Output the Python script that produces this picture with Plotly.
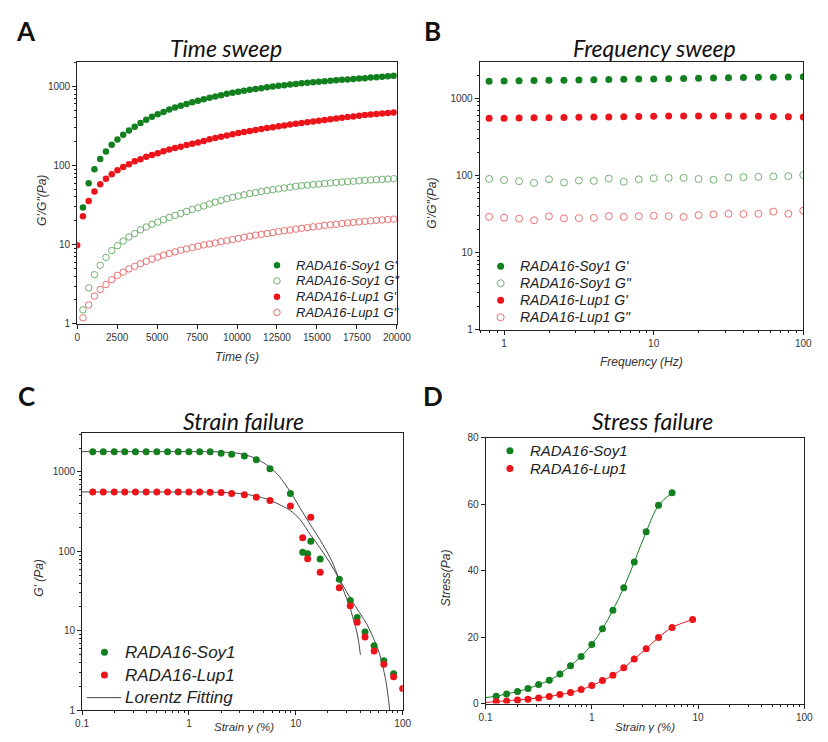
import plotly.graph_objects as go

# ---------------- DATA ----------------
# Panel A: time sweep
time_s = [0, 360, 720, 1080, 1440, 1800, 2160, 2520, 2880, 3240, 3600, 3960, 4320, 4680,
          5040, 5400, 5760, 6120, 6480, 6840, 7200, 7560, 7920, 8280, 8640, 9000, 9360,
          9720, 10080, 10440, 10800, 11160, 11520, 11880, 12240, 12600, 12960, 13320,
          13680, 14040, 14400, 14760, 15120, 15480, 15840, 16200, 16560, 16920, 17280,
          17640, 18000, 18360, 18720, 19080, 19440, 19800]
soy_gp_t = [None, 29.4, 59.6, 89.8, 120.5, 150, 183, 213, 244, 276, 310, 344, 378, 412, 445,
            475, 509, 540, 571, 598, 628, 659, 690, 718, 746, 772, 805, 830, 858, 882, 905,
            928, 950, 975, 995, 1015, 1035, 1055, 1075, 1093, 1110, 1128, 1145, 1160, 1178,
            1195, 1210, 1225, 1240, 1255, 1270, 1290, 1305, 1325, 1345, 1365]
soy_gpp_t = [None, 1.50, 2.84, 4.17, 5.48, 6.90, 8.42, 9.72, 11.1, 12.5, 13.8, 15.4, 16.7,
             18.1, 19.3, 20.7, 22.1, 23.4, 24.8, 26.2, 27.8, 29.1, 30.8, 32.6, 34.4, 36.2,
             38.0, 39.6, 41.1, 42.6, 44.1, 45.5, 46.9, 48.2, 49.5, 50.7, 52.0, 53.2, 54.6,
             55.6, 56.5, 57.4, 58.3, 59.2, 60.0, 60.9, 61.7, 62.5, 63.3, 64.1, 65.0, 65.6,
             66.3, 66.9, 67.5, 68.1]
lup_gp_t = [9.8, 22.9, 35.6, 46.9, 57.9, 68, 77.8, 87.1, 95.8, 104, 113, 120, 129, 136, 143,
            151, 159, 167, 173, 182, 189, 196, 204, 214, 223, 231, 240, 248, 257, 265, 273,
            281, 290, 298, 305, 313, 321, 329, 337, 344, 352, 360, 368, 376, 384, 392, 400,
            409, 417, 425, 434, 441, 447, 454, 461, 467]
lup_gpp_t = [None, 1.19, 1.73, 2.24, 2.71, 3.13, 3.61, 4.08, 4.49, 4.94, 5.33, 5.75, 6.15,
             6.58, 6.96, 7.37, 7.72, 8.11, 8.51, 8.84, 9.18, 9.55, 9.91, 10.2, 10.5, 10.9,
             11.2, 11.6, 12.0, 12.4, 12.8, 13.2, 13.5, 13.8, 14.2, 14.6, 15.0, 15.3, 15.7,
             16.1, 16.4, 16.8, 17.1, 17.5, 17.8, 18.1, 18.5, 18.8, 19.1, 19.4, 19.7, 20.0,
             20.3, 20.5, 20.8, 21.0]

# Panel B: frequency sweep
freq_hz = [0.794, 1, 1.259, 1.585, 1.995, 2.512, 3.162, 3.981, 5.012, 6.31, 7.943, 10,
           12.59, 15.85, 19.95, 25.12, 31.62, 39.81, 50.12, 63.1, 79.43, 100]
soy_gp_f = [1670, 1680, 1690, 1700, 1710, 1720, 1730, 1745, 1755, 1765, 1775, 1785, 1795,
            1810, 1820, 1830, 1845, 1860, 1870, 1880, 1890, 1900]
soy_gpp_f = [90, 87, 84, 80, 89, 81, 86, 85, 91, 83, 89, 92, 93, 93, 90, 88, 94, 95, 96, 97,
             98, 101]
lup_gp_f = [550, 552, 555, 558, 562, 565, 568, 571, 574, 578, 581, 584, 588, 590, 592, 592,
            590, 586, 584, 580, 576, 572]
lup_gpp_f = [29, 28.3, 27.5, 26.2, 29.5, 27.8, 28, 28.2, 29.6, 29, 29.6, 30, 29.6, 29, 30.5,
             31.2, 31.8, 31.6, 31.8, 34, 31.8, 35]

# Panel C: strain failure
strain_c = [0.126, 0.158, 0.2, 0.251, 0.316, 0.398, 0.501, 0.631, 0.794, 1.0, 1.26, 1.58,
            2.0, 2.51, 3.3, 4.27, 5.73, 8.9, 11.6, 12.9, 13.8, 16.9, 25.5, 32.3, 37.5, 44.4,
            54, 66.6, 82.2, 100]
soy_gp_c = [1800, 1800, 1800, 1800, 1800, 1800, 1800, 1800, 1800, 1800, 1800, 1790, 1718,
            1668, 1592, 1420, 1099, 535, 98, 93.4, 134, 80.2, 44.6, 24.1, 14.8, 9.7, 6.5,
            4.2, 2.9, None]
lup_gp_c = [561, 561, 561, 561, 561, 561, 561, 561, 561, 561, 561, 556, 550, 535, 515, 482,
            438, 373, 149, 81, 270, 54.8, 34.8, 20.8, 12.9, 8.4, 5.6, 3.8, 2.66, 1.89]
fit_soy_x = [0.1, 0.5, 1, 2, 3, 4, 5, 6, 7, 8.9, 11, 13.8, 16.9, 21.8, 25, 28, 31.9, 34.5,
             36.7, 38.6, 40.2]
fit_soy_y = [1800, 1800, 1799, 1785, 1700, 1520, 1300, 1090, 880, 560, 350, 213, 139, 75,
             47, 32, 20.5, 14, 10.5, 7.5, 5.0]
fit_lup_x = [0.1, 0.5, 1, 2, 3, 4, 5, 6, 8.9, 11, 13.8, 16.9, 21.8, 25, 33, 47, 60, 69, 74,
             75.5]
fit_lup_y = [560, 560, 559, 553, 535, 505, 470, 430, 326, 250, 160, 110, 65, 47, 24.7, 11.6,
             5.4, 2.5, 1.3, 1.0]

# Panel D: stress failure
strain_d_soy = [0.126, 0.158, 0.2, 0.251, 0.316, 0.398, 0.501, 0.631, 0.794, 1.0, 1.26,
                1.58, 2.0, 2.51, 3.25, 4.25, 5.7]
stress_soy = [2.2, 2.9, 3.6, 4.5, 5.7, 7.0, 8.9, 11.4, 14.2, 17.8, 22.5, 28.1, 34.9, 42.6,
              51.7, 59.7, 63.5]
strain_d_lup = [0.126, 0.158, 0.2, 0.251, 0.316, 0.398, 0.501, 0.631, 0.794, 1.0, 1.26,
                1.58, 2.0, 2.51, 3.25, 4.25, 5.7, 8.9]
stress_lup = [0.6, 0.8, 1.1, 1.3, 1.7, 2.1, 2.7, 3.3, 4.2, 5.4, 6.9, 8.5, 10.8, 13.4, 16.5,
              19.9, 22.9, 25.3]
line_start_strain = 0.1
line_start_soy = 1.8
line_start_lup = 0.3

# Legend labels
leg_a = ["RADA16-Soy1 G'", "RADA16-Soy1 G\"", "RADA16-Lup1 G'", "RADA16-Lup1 G\""]
leg_c = ["RADA16-Soy1", "RADA16-Lup1", "Lorentz Fitting"]

# ---------------- STYLE / LAYOUT ----------------
W, H = 828, 742
GREEN = "rgb(18,128,30)"
RED = "rgb(236,20,26)"
LGREEN = "rgb(112,178,112)"
LRED = "rgb(236,112,112)"
FITC = "rgb(70,70,70)"
TICKFONT = dict(family="Liberation Sans, Arial", size=10, color="#333")
LEGFONT = "Liberation Sans, Arial"
TITLEFONT = "Lato, Open Sans"


def px_x(p):
    return p / W


def px_y(p):
    return 1 - p / H


def dom_x(a, b):
    return [px_x(a), px_x(b)]


def dom_y(top, bottom):
    return [px_y(bottom), px_y(top)]


def mk(color, size=6, open_=False):
    if open_:
        return dict(symbol="circle-open", size=size, color=color, line=dict(width=1, color=color))
    return dict(symbol="circle", size=size, color=color)


fig = go.Figure()

# Panel A
styles_a = [(GREEN, False), (LGREEN, True), (RED, False), (LRED, True)]
series_a = [soy_gp_t, soy_gpp_t, lup_gp_t, lup_gpp_t]
for (c, o), ys, nm in zip(styles_a, series_a, leg_a):
    fig.add_trace(go.Scatter(x=time_s, y=ys, mode="markers", marker=mk(c, 6.5, o), name=nm,
                             showlegend=False, xaxis="x", yaxis="y"))

# Panel B
series_b = [soy_gp_f, soy_gpp_f, lup_gp_f, lup_gpp_f]
for (c, o), ys, nm in zip(styles_a, series_b, leg_a):
    fig.add_trace(go.Scatter(x=freq_hz, y=ys, mode="markers", marker=mk(c, 7, o), name=nm,
                             showlegend=False, xaxis="x2", yaxis="y2"))

# Panel C
fig.add_trace(go.Scatter(x=fit_soy_x, y=fit_soy_y, mode="lines",
                         line=dict(color=FITC, width=1, shape="spline", smoothing=0.8),
                         name=leg_c[2], showlegend=False, xaxis="x3", yaxis="y3"))
fig.add_trace(go.Scatter(x=fit_lup_x, y=fit_lup_y, mode="lines",
                         line=dict(color=FITC, width=1, shape="spline", smoothing=0.8),
                         name=leg_c[2], showlegend=False, xaxis="x3", yaxis="y3"))
fig.add_trace(go.Scatter(x=strain_c, y=soy_gp_c, mode="markers", marker=mk(GREEN, 7),
                         name=leg_c[0], showlegend=False, xaxis="x3", yaxis="y3"))
fig.add_trace(go.Scatter(x=strain_c, y=lup_gp_c, mode="markers", marker=mk(RED, 7),
                         name=leg_c[1], showlegend=False, xaxis="x3", yaxis="y3"))

# Panel D
fig.add_trace(go.Scatter(x=[line_start_strain] + strain_d_soy, y=[line_start_soy] + stress_soy,
                         mode="lines", line=dict(color=GREEN, width=1, shape="spline"),
                         showlegend=False, xaxis="x4", yaxis="y4"))
fig.add_trace(go.Scatter(x=[line_start_strain] + strain_d_lup, y=[line_start_lup] + stress_lup,
                         mode="lines", line=dict(color=RED, width=1, shape="spline"),
                         showlegend=False, xaxis="x4", yaxis="y4"))
fig.add_trace(go.Scatter(x=strain_d_soy, y=stress_soy, mode="markers", marker=mk(GREEN, 7),
                         name=leg_c[0], showlegend=False, xaxis="x4", yaxis="y4"))
fig.add_trace(go.Scatter(x=strain_d_lup, y=stress_lup, mode="markers", marker=mk(RED, 7),
                         name=leg_c[1], showlegend=False, xaxis="x4", yaxis="y4"))

# ---- legend keys (drawn on a pixel-coordinate overlay axis) ----
annots = []


def ann(text, x, y, size, family, color="#111", bold=False, italic=False, angle=0,
        xanchor="center"):
    t = text
    if italic:
        t = "<i>" + t + "</i>"
    if bold:
        t = "<b>" + t + "</b>"
    annots.append(dict(text=t, x=px_x(x), y=px_y(y), xref="paper", yref="paper",
                       showarrow=False, xanchor=xanchor, yanchor="middle", textangle=angle,
                       font=dict(size=size, family=family, color=color)))


def legend_block(mx, tx, y0, dy, labels, styles, msize, fsize):
    for i, (lab, st) in enumerate(zip(labels, styles)):
        yy = y0 + i * dy
        if st[0] == "line":
            fig.add_trace(go.Scatter(x=[mx - 18, mx + 17], y=[yy, yy], mode="lines",
                                     line=dict(color=st[1], width=1), showlegend=False,
                                     hoverinfo="skip", xaxis="x5", yaxis="y5"))
        else:
            fig.add_trace(go.Scatter(x=[mx], y=[yy], mode="markers",
                                     marker=mk(st[0], msize, st[1]), showlegend=False,
                                     hoverinfo="skip", xaxis="x5", yaxis="y5"))
        ann(lab, tx, yy, fsize, LEGFONT, color="#222", italic=True, xanchor="left")


legend_block(277, 294, 263.5, 16, leg_a, styles_a, 6.5, 13)
legend_block(506.5, 524, 264.5, 17.3, leg_a, styles_a, 7, 14)
legend_block(100, 119, 657, 23, leg_c, [(GREEN, False), (RED, False), ("line", FITC)], 7, 17)
legend_block(516, 535, 452, 18, leg_c[:2], [(GREEN, False), (RED, False)], 7, 15)

axis_common = dict(showline=True, mirror=True, linecolor="#222", linewidth=1,
                   ticks="outside", ticklen=4, tickcolor="#222", showgrid=False,
                   zeroline=False, tickfont=TICKFONT)
minor_log = dict(ticks="outside", ticklen=2, tickcolor="#222", dtick="D1", showgrid=False)
log_major = dict(type="log", tickmode="linear", tick0=0, dtick=1, exponentformat="none",
                 minor=minor_log)

fig.update_layout(
    width=W, height=H, margin=dict(l=0, r=0, t=0, b=0), showlegend=False,
    paper_bgcolor="white", plot_bgcolor="rgba(0,0,0,0)",
    xaxis=dict(axis_common, domain=dom_x(72, 400), anchor="y", range=[0, 20000],
               tickmode="linear", tick0=0, dtick=2500, tickformat="d"),
    yaxis=dict(axis_common, **log_major, domain=dom_y(57, 323), anchor="x", range=[0, 3.307]),
    xaxis2=dict(axis_common, **log_major, domain=dom_x(485, 817), anchor="y2",
                range=[-0.163, 2]),
    yaxis2=dict(axis_common, **log_major, domain=dom_y(57, 329), anchor="x2", range=[0, 3.47]),
    xaxis3=dict(axis_common, **log_major, domain=dom_x(77, 406), anchor="y3", range=[-1, 2]),
    yaxis3=dict(axis_common, **log_major, domain=dom_y(434, 716), anchor="x3", range=[0, 3.49]),
    xaxis4=dict(axis_common, **log_major, domain=dom_x(491, 818), anchor="y4", range=[-1, 2]),
    yaxis4=dict(axis_common, domain=dom_y(439, 709), anchor="x4", range=[0, 80],
                tickmode="linear", tick0=0, dtick=20),
    xaxis5=dict(domain=[0, 1], range=[0, W], visible=False, fixedrange=True, anchor="y5"),
    yaxis5=dict(domain=[0, 1], range=[H, 0], visible=False, fixedrange=True, anchor="x5"),
)

# Panel letters
ann("A", 20, 25, 26, TITLEFONT, bold=True)
ann("B", 437, 25, 26, TITLEFONT, bold=True)
ann("C", 20, 396, 26, TITLEFONT, bold=True)
ann("D", 437, 396, 26, TITLEFONT, bold=True)
# Titles
ann("Time sweep", 225, 43, 23, TITLEFONT, italic=True)
ann("Frequency sweep", 664, 43, 23, TITLEFONT, italic=True)
ann("Strain failure", 243, 422, 23, TITLEFONT, italic=True)
ann("Stress failure", 662, 422, 23, TITLEFONT, italic=True)
# Axis titles
AX = "Liberation Sans, Arial"
ann("Time (s)", 236, 357, 12, AX, color="#333", italic=True)
ann("Frequency (Hz)", 651, 362, 12, AX, color="#333", italic=True)
ann("Strain γ (%)", 243, 733, 11.5, AX, color="#333", italic=True)
ann("Strain γ (%)", 655, 733, 11.5, AX, color="#333", italic=True)
ann("G'/G\"(Pa)", 36, 198, 12, AX, color="#333", italic=True, angle=-90)
ann("G'/G\"(Pa)", 436, 200, 12, AX, color="#333", italic=True, angle=-90)
ann("G' (Pa)", 32, 581, 12, AX, color="#333", italic=True, angle=-90)
ann("Stress(Pa)", 450, 581, 12, AX, color="#333", italic=True, angle=-90)

fig.update_layout(annotations=annots)
fig.write_html("out.html", config={"displayModeBar": False},
               post_script="document.body.style.margin='0';document.body.style.padding='0';")
